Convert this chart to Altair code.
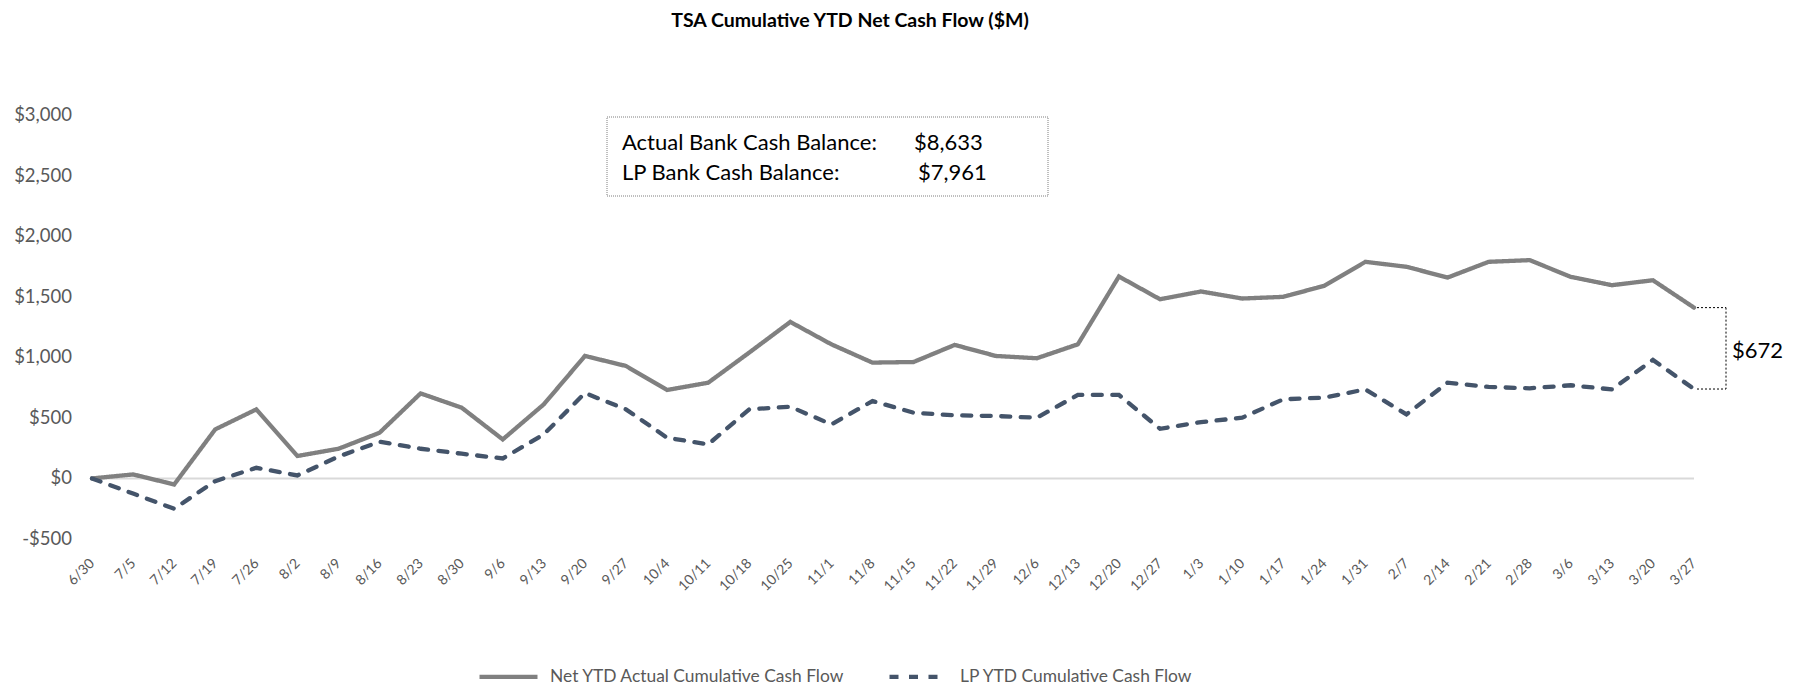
import altair as alt
import pandas as pd

dates = ["6/30","7/5","7/12","7/19","7/26","8/2","8/9","8/16","8/23","8/30","9/6","9/13",
         "9/20","9/27","10/4","10/11","10/18","10/25","11/1","11/8","11/15","11/22","11/29",
         "12/6","12/13","12/20","12/27","1/3","1/10","1/17","1/24","1/31","2/7","2/14","2/21",
         "2/28","3/6","3/13","3/20","3/27"]

actual = [0, 33, -50, 405, 570, 185, 245, 377, 702, 584, 322, 612, 1011, 928, 730, 790,
          1039, 1292, 1107, 956, 961, 1102, 1011, 992, 1107, 1667, 1479, 1543, 1485, 1499,
          1590, 1788, 1747, 1658, 1788, 1802, 1664, 1595, 1636, 1410]

lp = [0, -125, -250, -22, 88, 25, 180, 303, 245, 204, 165, 364, 705, 570, 336, 281, 570,
      592, 446, 639, 543, 521, 515, 501, 689, 689, 410, 465, 501, 653, 667, 735, 529, 790,
      755, 744, 769, 735, 978, 738]

series_names = ["Net YTD Actual Cumulative Cash Flow", "LP YTD Cumulative Cash Flow"]
box_labels = ["Actual Bank Cash Balance:", "LP Bank Cash Balance:"]
box_values = ["$8,633", "$7,961"]
y_ticks = [-500, 0, 500, 1000, 1500, 2000, 2500, 3000]
y_tick_labels = ["-$500", "$0", "$500", "$1,000", "$1,500", "$2,000", "$2,500", "$3,000"]

FONT = "Lato"
W, H = 1602, 424
PAD_L, PAD_T = 92, 115

rows = []
for d, a, l in zip(dates, actual, lp):
    rows.append({"date": d, "series": series_names[0], "value": a})
    rows.append({"date": d, "series": series_names[1], "value": l})
df = pd.DataFrame(rows)

x_enc = alt.X("date:O", sort=dates, title=None,
              scale=alt.Scale(type="point", padding=0),
              axis=alt.Axis(labelAngle=-45, labelFontSize=14, labelColor="#595959",
                            labelFont=FONT, domain=False, ticks=False, labelPadding=22,
                            labelAlign="right", labelBaseline="middle", grid=False))
y_scale = alt.Scale(domain=[-500, 3000], nice=False, zero=False)

zero_rule = alt.Chart(pd.DataFrame({"value": [0]})).mark_rule(color="#D9D9D9", strokeWidth=2).encode(
    y=alt.Y("value:Q", title=None, scale=y_scale, axis=None))

# y tick labels drawn through the y scale
ylab = alt.Chart(pd.DataFrame({"tick": y_ticks, "lab": y_tick_labels})).mark_text(
    align="right", baseline="middle", fontSize=18.5, font=FONT, color="#595959").encode(
    x=alt.value(-20), y=alt.Y("tick:Q", scale=y_scale, axis=None), text="lab:N")

lines = alt.Chart(df).mark_line(strokeWidth=4.3, strokeCap="round").encode(
    x=x_enc,
    y=alt.Y("value:Q", title=None, scale=y_scale, axis=None),
    color=alt.Color("series:N", sort=series_names,
                    scale=alt.Scale(domain=series_names, range=["#808080", "#44546A"]),
                    title=None),
    strokeDash=alt.StrokeDash("series:N", sort=series_names,
                              scale=alt.Scale(domain=series_names, range=[[1, 0], [9, 10.5]]),
                              title=None),
)

# difference bracket
last_a, last_l = actual[-1], lp[-1]
diff_df = pd.DataFrame({"a": [last_a], "b": [last_l], "mid": [(last_a + last_l) / 2],
                        "label": [f"${last_a - last_l:,}"]})
ends_df = pd.DataFrame({"v": [last_a, last_l]})
br_h = alt.Chart(ends_df).mark_rule(color="#000000", strokeWidth=1, strokeDash=[2, 2]).encode(
    x=alt.value(W + 3), x2=alt.value(W + 32), y=alt.Y("v:Q", scale=y_scale, axis=None))
br_v = alt.Chart(diff_df).mark_rule(color="#000000", strokeWidth=1, strokeDash=[2, 2]).encode(
    x=alt.value(W + 32), y=alt.Y("a:Q", scale=y_scale, axis=None), y2="b:Q")
br_t = alt.Chart(diff_df).mark_text(align="left", baseline="middle", fontSize=22, dy=3,
                                    font=FONT, color="#000000").encode(
    x=alt.value(W + 38), y=alt.Y("mid:Q", scale=y_scale, axis=None), text="label:N")

# balance box
box = alt.Chart(pd.DataFrame({"k": [0]})).mark_rect(
    fill="white", stroke="#7F7F7F", strokeWidth=1, strokeDash=[1, 1]).encode(
    x=alt.value(515), x2=alt.value(956), y=alt.value(2), y2=alt.value(81))
box_texts = []
for i, (lab, val) in enumerate(zip(box_labels, box_values)):
    yy = 28 + i * 30
    box_texts.append(alt.Chart(pd.DataFrame({"t": [lab]})).mark_text(
        align="left", baseline="middle", fontSize=22, font=FONT, color="#000000").encode(
        x=alt.value(530), y=alt.value(yy), text="t:N"))
    box_texts.append(alt.Chart(pd.DataFrame({"t": [val]})).mark_text(
        align="left", baseline="middle", fontSize=22, font=FONT, color="#000000").encode(
        x=alt.value(822 + 4 * i), y=alt.value(yy), text="t:N"))

chart = alt.layer(zero_rule, lines, ylab, br_h, br_v, br_t, box, *box_texts).properties(
    width=W, height=H,
    background="white",
    title=alt.TitleParams("TSA Cumulative YTD Net Cash Flow ($M)", font=FONT, fontSize=19.5,
                          fontWeight="bold", color="#000000", anchor="middle", dx=-43,
                          offset=75),
    padding={"left": PAD_L, "top": PAD_T, "right": 1807 - PAD_L - W, "bottom": 686 - PAD_T - H},
    autosize=alt.AutoSizeParams(type="none"),
).configure_view(stroke=None).configure_legend(
    orient="none", legendX=385, legendY=530, direction="horizontal",
    symbolType="stroke", symbolStrokeWidth=4.3, symbolSize=3364,
    labelFontSize=17.4, labelFont=FONT, labelColor="#595959", labelOffset=10,
    columnPadding=35, labelLimit=0,
)

chart.save("out.html", embed_options={"renderer": "svg", "actions": False})
